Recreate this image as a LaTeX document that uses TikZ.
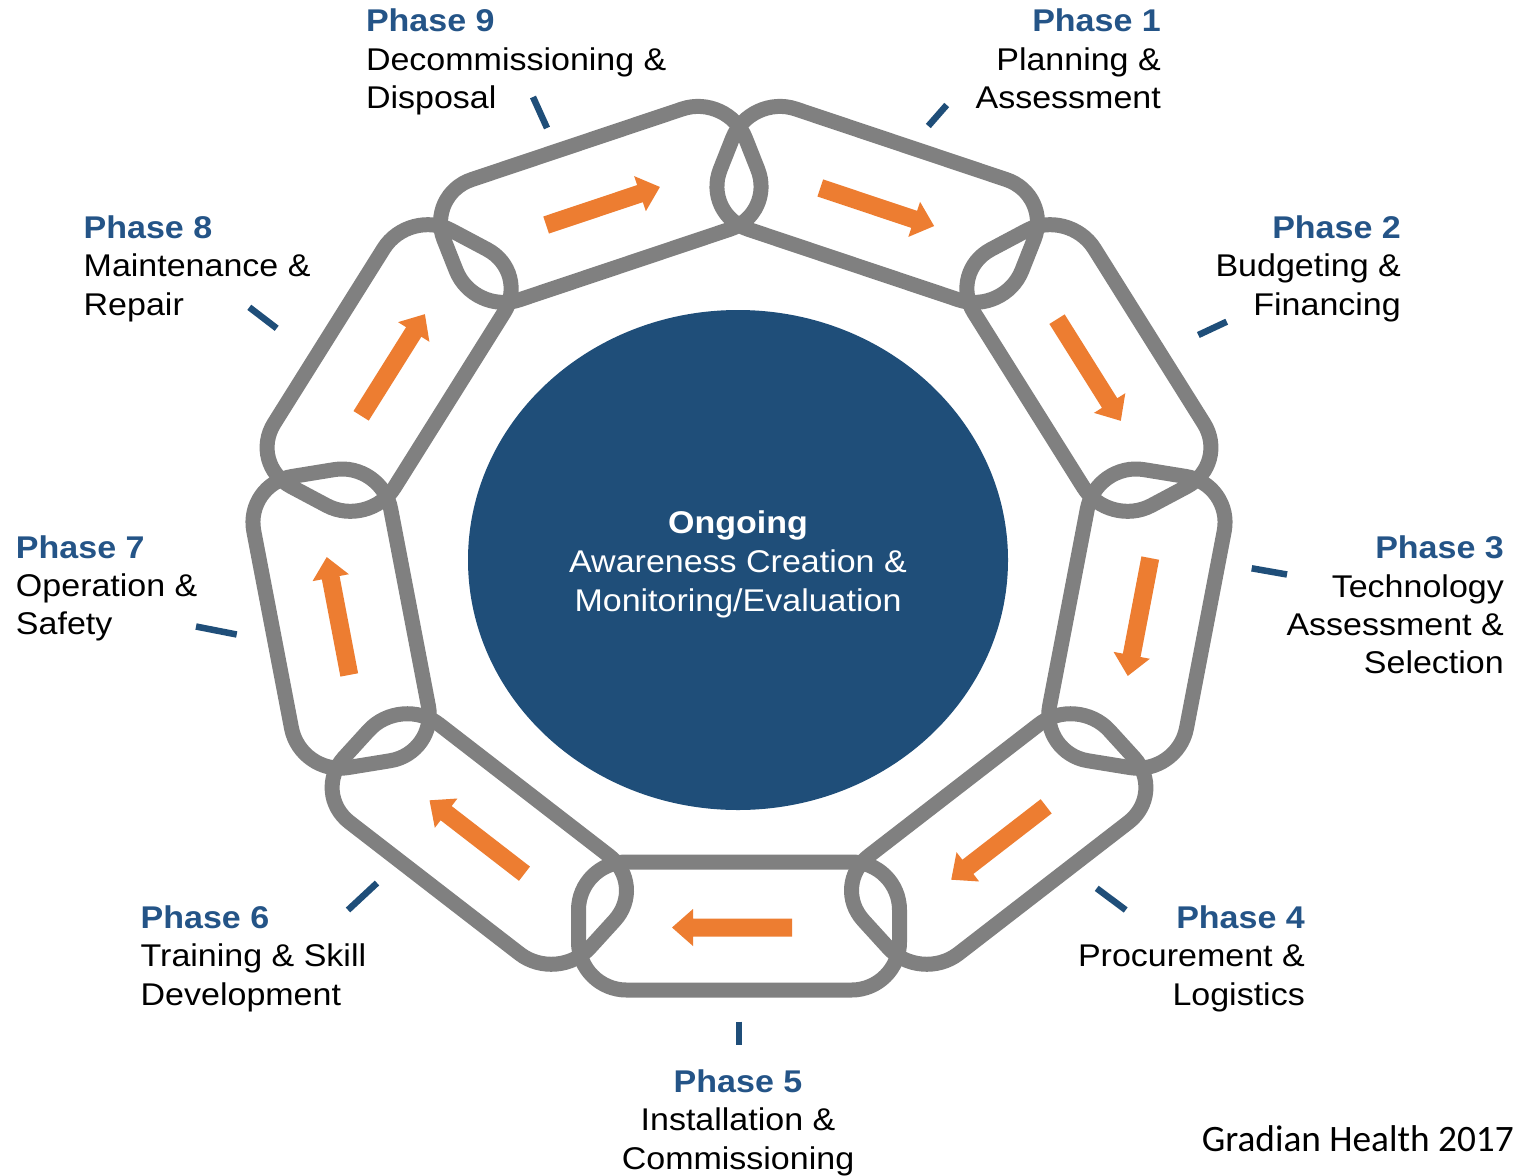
\documentclass[tikz,border=0pt]{standalone}
\usepackage{fontspec}
\setmainfont{Liberation Sans}
\newfontfamily\capfont{Carlito}
\usetikzlibrary{shapes.geometric}
\definecolor{chaingray}{HTML}{808080}
\definecolor{orng}{HTML}{ED7D31}
\definecolor{navy}{HTML}{1F4E79}
\definecolor{phaseblue}{HTML}{245487}
\begin{document}
\begin{tikzpicture}[x=1pt,y=-1pt,
  chainlink/.style={draw=chaingray, line width=15pt, rounded corners=48pt},
  flowarrow/.style={fill=orng, draw=none},
  tickmark/.style={draw=navy, line width=6.5pt},
  phasehead/.style={font=\bfseries\fontsize{34}{40}\selectfont, text=phaseblue, inner sep=0pt, yscale=0.924},
  phasetext/.style={font=\fontsize{34}{40}\selectfont, text=black, inner sep=0pt, yscale=0.924},
  hubhead/.style={font=\bfseries\fontsize{34}{40}\selectfont, text=white, inner sep=0pt, yscale=0.924},
  hubtext/.style={font=\fontsize{34}{40}\selectfont, text=white, inner sep=0pt, yscale=0.924}]
\useasboundingbox[fill=white] (0,0) rectangle (1517,1175);

% central ellipse
\node[ellipse, fill=navy, minimum width=540pt, minimum height=500pt, inner sep=0pt] (hub) at (738,560) {};

% chain links (unsquished shape, squished by yscale)
\def\linkpath{(-160.5,-69.5) -- (160.5,-69.5) -- (160.5,69.5) -- (-160.5,69.5) -- cycle}
\draw[chainlink, shift={(739,926)},      yscale=0.921, rotate=0]    \linkpath;
\draw[chainlink, shift={(998.7,839.0)},  yscale=0.921, rotate=40]   \linkpath;
\draw[chainlink, shift={(1136.9,618.6)}, yscale=0.921, rotate=-100] \linkpath;
\draw[chainlink, shift={(1088.9,368.0)}, yscale=0.921, rotate=-60]  \linkpath;
\draw[chainlink, shift={(877.2,204.4)},  yscale=0.921, rotate=-20]  \linkpath;
\draw[chainlink, shift={(600.8,204.4)},  yscale=0.921, rotate=20]   \linkpath;
\draw[chainlink, shift={(389.1,368.0)},  yscale=0.921, rotate=60]   \linkpath;
\draw[chainlink, shift={(341.1,618.6)},  yscale=0.921, rotate=100]  \linkpath;
\draw[chainlink, shift={(479.3,839.0)},  yscale=0.921, rotate=140]  \linkpath;

% orange arrows
\def\arrowpath{(-60,-9) -- (39,-9) -- (39,-18.5) -- (60,0) -- (39,18.5) -- (39,9) -- (-60,9) -- cycle}
\fill[flowarrow, shift={(732,927.5)},    rotate=-180]   \arrowpath;
\fill[flowarrow, shift={(998.7,843.0)},  rotate=-142.3] \arrowpath;
\fill[flowarrow, shift={(1139.0,617.0)}, rotate=-100.8] \arrowpath;
\fill[flowarrow, shift={(1088.9,370.0)}, rotate=-57.9]  \arrowpath;
\fill[flowarrow, shift={(877.2,207.0)},  rotate=-18.5]  \arrowpath;
\fill[flowarrow, shift={(603.0,206.0)},  rotate=18.5]   \arrowpath;
\fill[flowarrow, shift={(393.0,365.0)},  rotate=57.9]   \arrowpath;
\fill[flowarrow, shift={(338.0,616.0)},  rotate=100.8]  \arrowpath;
\fill[flowarrow, shift={(477.0,837.0)},  rotate=142.3]  \arrowpath;

% tick marks
\draw[tickmark] (946.7,105) -- (928.3,126);
\draw[tickmark] (533,97) -- (547,128);
\draw[tickmark] (1198.3,335) -- (1226.7,321.7);
\draw[tickmark] (249.3,307.3) -- (276.7,328.3);
\draw[tickmark] (1251.7,568.3) -- (1287,574.5);
\draw[tickmark] (196,626.5) -- (236.7,634.5);
\draw[tickmark] (1096.7,888.3) -- (1125.7,910);
\draw[tickmark] (348,910) -- (377,883);
\draw[tickmark] (739,1021.7) -- (739,1045);

% centre text
\node[hubhead, anchor=base] (hubA) at (738,533) {Ongoing};
\node[hubtext, anchor=base] (hubB) at (738,572) {Awareness Creation \&};
\node[hubtext, anchor=base] (hubC) at (738,611) {Monitoring/Evaluation};

% Phase 9
\node[phasehead, anchor=base west] (p9a) at (365.8,31.5) {Phase 9};
\node[phasetext, anchor=base west] (p9b) at (365.8,70) {Decommissioning \&};
\node[phasetext, anchor=base west] (p9c) at (365.8,108) {Disposal};
% Phase 1
\node[phasehead, anchor=base east] (p1a) at (1161,31.5) {Phase 1};
\node[phasetext, anchor=base east] (p1b) at (1161,70) {Planning \&};
\node[phasetext, anchor=base east] (p1c) at (1161,108) {Assessment};
% Phase 8
\node[phasehead, anchor=base west] (p8a) at (83.5,238.3) {Phase 8};
\node[phasetext, anchor=base west] (p8b) at (83.5,276.7) {Maintenance \&};
\node[phasetext, anchor=base west] (p8c) at (83.5,315) {Repair};
% Phase 2
\node[phasehead, anchor=base east] (p2a) at (1401,238.3) {Phase 2};
\node[phasetext, anchor=base east] (p2b) at (1401,276.7) {Budgeting \&};
\node[phasetext, anchor=base east] (p2c) at (1401,315) {Financing};
% Phase 7
\node[phasehead, anchor=base west] (p7a) at (15.8,558) {Phase 7};
\node[phasetext, anchor=base west] (p7b) at (15.8,596.3) {Operation \&};
\node[phasetext, anchor=base west] (p7c) at (15.8,634.6) {Safety};
% Phase 3
\node[phasehead, anchor=base east] (p3a) at (1504,558) {Phase 3};
\node[phasetext, anchor=base east] (p3b) at (1504,597) {Technology};
\node[phasetext, anchor=base east] (p3c) at (1504,635) {Assessment \&};
\node[phasetext, anchor=base east] (p3d) at (1504,673) {Selection};
% Phase 6
\node[phasehead, anchor=base west] (p6a) at (140.5,928) {Phase 6};
\node[phasetext, anchor=base west] (p6b) at (140.5,966.5) {Training \& Skill};
\node[phasetext, anchor=base west] (p6c) at (140.5,1005) {Development};
% Phase 4
\node[phasehead, anchor=base east] (p4a) at (1305,928) {Phase 4};
\node[phasetext, anchor=base east] (p4b) at (1305,966.5) {Procurement \&};
\node[phasetext, anchor=base east] (p4c) at (1305,1005) {Logistics};
% Phase 5
\node[phasehead, anchor=base] (p5a) at (738,1092) {Phase 5};
\node[phasetext, anchor=base] (p5b) at (738,1130.5) {Installation \&};
\node[phasetext, anchor=base] (p5c) at (738,1169) {Commissioning};

% credit
\node[font=\capfont\fontsize{37.3}{40}\selectfont, inner sep=0pt, anchor=base east] (credit) at (1514,1151) {Gradian Health 2017};
\end{tikzpicture}
\end{document}
